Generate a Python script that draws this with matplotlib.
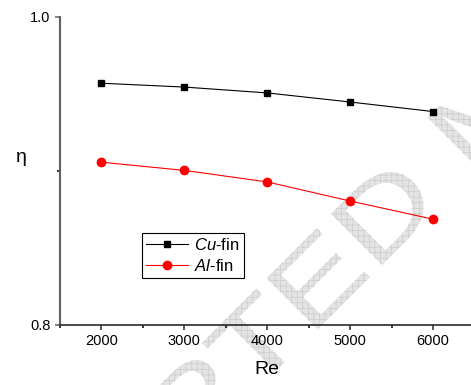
import numpy as np
import matplotlib
matplotlib.use("Agg")
import matplotlib.pyplot as plt
from matplotlib.ticker import MultipleLocator, FixedLocator
from matplotlib.textpath import TextPath
from matplotlib.font_manager import FontProperties
from matplotlib.patches import PathPatch
from matplotlib.transforms import Affine2D

plt.rcParams['font.family'] = ['Liberation Sans', 'DejaVu Sans']
plt.rcParams['mathtext.fontset'] = 'custom'
plt.rcParams['mathtext.rm'] = 'Liberation Sans'
plt.rcParams['mathtext.it'] = 'Liberation Sans:italic'
plt.rcParams['hatch.linewidth'] = 0.5

# fin efficiency vs Reynolds number
re_values = [2000, 3000, 4000, 5000, 6000]
eta_cu = [0.957, 0.9545, 0.9507, 0.9448, 0.9386]
eta_al = [0.9057, 0.9004, 0.8929, 0.8805, 0.8687]
labels = [r'$\it{Cu}$-fin', r'$\it{Al}$-fin']

W, H = 471, 385
fig = plt.figure(figsize=(W / 100, H / 100), dpi=100)
ax = fig.add_axes([60 / W, 60 / H, 414.5 / W, 308 / H])
ax.set_facecolor('none')

# grey "accepted manuscript" stamp behind everything
fp = FontProperties(family='Liberation Sans')
size = 105
stamp = TextPath((0, 0), "ACCEPTED MANUSCRIPT", size=size, prop=fp)
full = TextPath((0, 0), "ACCEPTED", size=size, prop=fp).get_extents()
d_ext = TextPath((0, 0), "D", size=size, prop=fp).get_extents()
d_left = full.x1 - (d_ext.x1 - d_ext.x0)
stretch, angle = 1.3, 45
px = d_left * stretch
c, s = np.cos(np.radians(angle)), np.sin(np.radians(angle))
tx, ty = 382 - px * c, (H - 265) - px * s
tr = Affine2D().scale(stretch, 1).rotate_deg(angle).translate(tx, ty)
wm = PathPatch(stamp, transform=tr, facecolor='#e4e4e4', edgecolor='#cdcdcd',
               linewidth=0, hatch='+++', zorder=-1)
fig.add_artist(wm)

ax.plot(re_values, eta_cu, color='black', lw=0.8, marker='s', ms=5,
        label=labels[0], zorder=3)
ax.plot(re_values, eta_al, color='red', lw=0.8, marker='o', ms=6,
        label=labels[1], zorder=3)

ax.set_xlim(1500, 6500)
ax.set_ylim(0.8, 1.0)
ax.xaxis.set_major_locator(FixedLocator(re_values))
ax.xaxis.set_minor_locator(MultipleLocator(500))
ax.yaxis.set_major_locator(FixedLocator([0.8, 1.0]))
ax.yaxis.set_minor_locator(FixedLocator([0.9]))
ax.set_yticklabels(['0.8', '1.0'])

ax.spines['top'].set_visible(False)
ax.spines['right'].set_visible(False)
ax.spines['left'].set_color('#606060')
ax.spines['left'].set_linewidth(1.5)
ax.spines['bottom'].set_color('#2a2a2a')
ax.spines['bottom'].set_linewidth(1.2)

ax.tick_params(axis='both', which='both', direction='out', labelsize=10.5, pad=3)
ax.tick_params(axis='both', which='major', length=3.8, width=1.1)
ax.tick_params(axis='both', which='minor', length=2.2, width=1.1)
ax.tick_params(axis='y', colors='#606060', labelcolor='black')
ax.tick_params(axis='x', colors='#2a2a2a', labelcolor='black')

ax.set_xlabel('Re', fontsize=14, labelpad=9)
ax.set_ylabel('η', fontsize=14, rotation=0, ha='center', va='center')
ax.yaxis.set_label_coords(-0.094, 0.545)

leg = ax.legend(loc='upper left', bbox_to_anchor=((142 - 60) / 414.5, (325 - 233) / 308),
                borderaxespad=0, fontsize=12, frameon=True, fancybox=False,
                edgecolor='black', framealpha=1, handlelength=2.5,
                handletextpad=0.4, borderpad=0.25, labelspacing=0.3)
leg.get_frame().set_linewidth(0.8)

fig.savefig('out.png', dpi=100)
